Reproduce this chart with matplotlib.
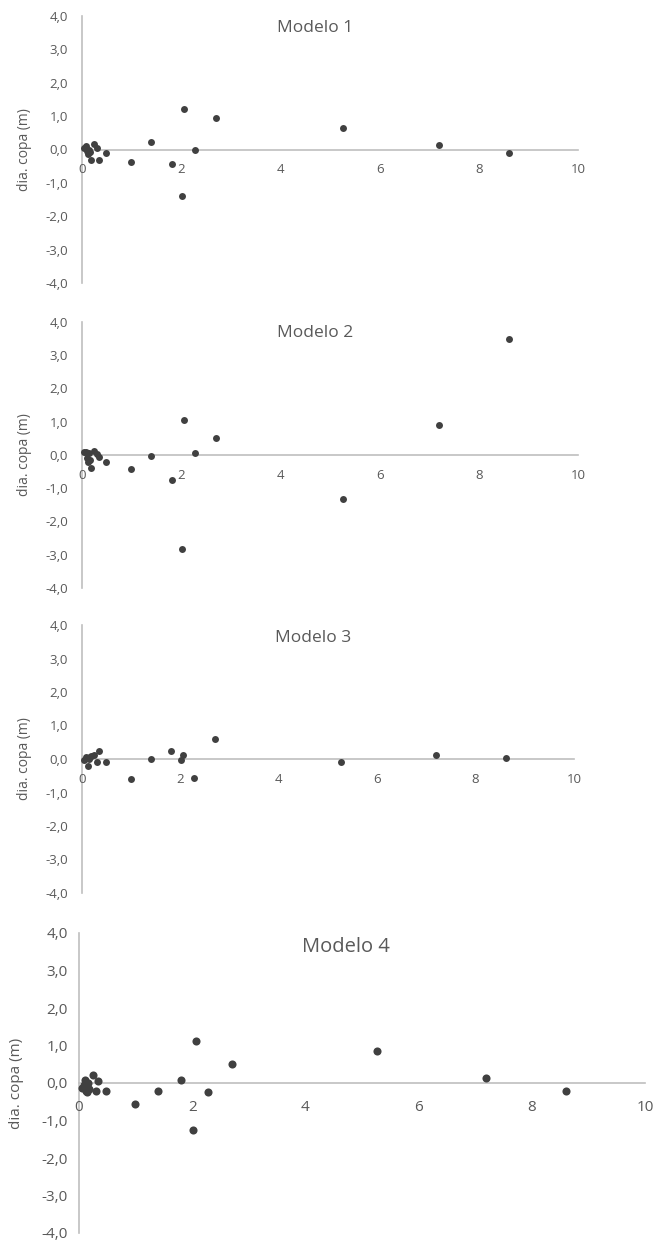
import matplotlib
matplotlib.use("Agg")
import matplotlib.pyplot as plt
from matplotlib.ticker import FuncFormatter

plt.rcParams["font.family"] = ["Open Sans", "DejaVu Sans"]

W, H = 656, 1245

# --- Data ---
diam = [0.05, 0.08, 0.10, 0.12, 0.14, 0.16, 0.18, 0.25, 0.30, 0.34, 0.48,
        0.99, 1.40, 1.81, 2.02, 2.06, 2.28, 2.70, 5.26, 7.19, 8.61]

res_m1 = [0.05, 0.10, -0.05, -0.12, 0.00, -0.08, -0.30, 0.17, 0.04, -0.30, -0.11,
          -0.37, 0.22, -0.44, -1.38, 1.21, 0.00, 0.95, 0.64, 0.13, -0.11]
res_m2 = [0.08, 0.10, -0.10, -0.20, 0.05, -0.15, -0.39, 0.13, 0.04, -0.05, -0.22,
          -0.43, -0.04, -0.75, -2.82, 1.06, 0.05, 0.51, -1.33, 0.89, 3.50]
res_m3 = [-0.03, 0.05, 0.02, -0.21, 0.00, 0.05, 0.08, 0.12, -0.08, 0.23, -0.08,
          -0.59, 0.01, 0.23, -0.03, 0.11, -0.56, 0.59, -0.09, 0.13, 0.03]
res_m4 = [-0.12, -0.05, 0.08, -0.20, -0.25, 0.00, -0.15, 0.21, -0.22, 0.05, -0.22,
          -0.56, -0.20, 0.07, -1.24, 1.13, -0.24, 0.52, 0.86, 0.13, -0.22]

titles = ["Modelo 1", "Modelo 2", "Modelo 3", "Modelo 4"]
series = [res_m1, res_m2, res_m3, res_m4]
x_ticks = [0, 2, 4, 6, 8, 10]
y_ticks = [-4, -3, -2, -1, 0, 1, 2, 3, 4]
ylabel = "dia. copa (m)"

# pixel boxes of the plot areas: (x at 0, x at 10, y at +4, y at -4)
boxes = [(82, 578, 16, 283), (82, 578, 322, 588), (82, 574, 625, 893), (79, 645, 933, 1233)]
title_pos = [(315, 28), (315, 333), (313, 638), (346, 947)]
ylabel_x = [32, 32, 32, 24]   # pixel right edge of the rotated y label
big = [False, False, False, True]

AXIS = "#bfbfbf"
TXT = "#595959"
DOT = "#404040"

fig = plt.figure(figsize=(W / 100, H / 100), dpi=100)

for i in range(4):
    x0, x1, yt, yb = boxes[i]
    ax = fig.add_axes([x0 / W, 1 - yb / H, (x1 - x0) / W, (yb - yt) / H])
    fs_tick = 11 if big[i] else 9.5
    ax.scatter(diam, series[i], s=34 if big[i] else 25, color=DOT, zorder=3,
               linewidths=0, clip_on=False)
    ax.set_xlim(0, 10)
    ax.set_ylim(-4, 4)
    ax.set_xticks(x_ticks)
    ax.set_yticks(y_ticks)
    ax.yaxis.set_major_formatter(FuncFormatter(lambda v, p: f"{v:.1f}".replace(".", ",")))
    for s in ["top", "right"]:
        ax.spines[s].set_visible(False)
    ax.spines["bottom"].set_position(("data", 0))
    for s in ["bottom", "left"]:
        ax.spines[s].set_color(AXIS)
        ax.spines[s].set_linewidth(1.2)
        ax.spines[s].set_zorder(1)
    ax.tick_params(axis="both", length=0, colors=TXT, labelsize=fs_tick)
    ax.tick_params(axis="x", pad=12 if big[i] else 10)
    ax.tick_params(axis="y", pad=8 if big[i] else 10)
    ax.patch.set_alpha(0)
    ax.set_ylabel(ylabel, color=TXT, fontsize=11 if big[i] else 10)
    ax.yaxis.set_label_coords((ylabel_x[i] - x0) / (x1 - x0), 0.5)
    tx, ty = title_pos[i]
    fig.text(tx / W, 1 - ty / H, titles[i], ha="center", va="center",
             color=TXT, fontsize=14.5 if big[i] else 12.5)

fig.savefig("out.png", dpi=100)
